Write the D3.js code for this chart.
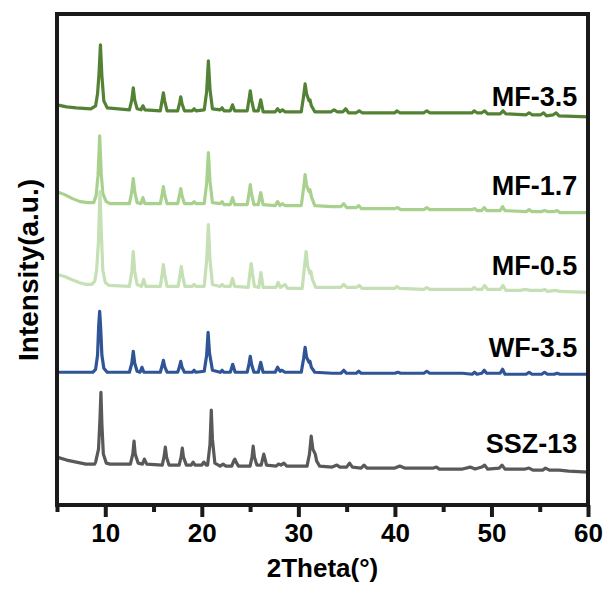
<!DOCTYPE html>
<html>
<head>
<meta charset="utf-8">
<script src="https://cdn.jsdelivr.net/npm/d3@7"></script>
<style>
  body { margin: 0; background: #fff; }
  svg text { font-family: "Liberation Sans", Arial, sans-serif; font-weight: bold; fill: #000; }
</style>
</head>
<body>
<div class="chart-box"></div>
<script>
let width = 608;
let height = 599;
let margin = {top: 14, right: 20, bottom: 94, left: 57};

// 2theta ticks
let majorTicks = [10, 20, 30, 40, 50, 60];
let minorTicks = [5, 15, 25, 35, 45, 55];

let sampleNames = ["MF-3.5", "MF-1.7", "MF-0.5", "WF-3.5", "SSZ-13"];
let sampleColors = ["#548235", "#a9d18e", "#c5e0b4", "#2f5597", "#595959"];
// label height (a.u.) where each name sits
let labelLevels = [400, 311, 230, 148, 52];

// stacked patterns, [2theta, intensity a.u.]
let mf35 = [[5,401],[6,399],[7,398],[8.5,397],[9.0,400],[9.2,412],[9.35,432],[9.5,461],[9.65,430],[9.85,405],[10.2,398],
  [12.5,396],[12.75,406],[12.9,418],[13.05,406],[13.3,397],[13.7,396],[13.9,400],[14.1,396],
  [15.7,395],[15.9,406],[16.02,413],[16.15,405],[16.4,395],[17.5,395],[17.7,403],[17.82,409],[17.95,402],[18.2,395],
  [19.0,395],[19.2,397],[19.4,395],[20.25,396],[20.5,414],[20.68,445],[20.85,416],[21.1,397],
  [21.9,396],[22.1,398],[22.3,395],[22.95,395],[23.18,401],[23.4,395],
  [24.7,395],[24.9,407],[25.02,415],[25.15,406],[25.4,395],[25.85,395],[26.1,406],[26.35,394],
  [27.6,394],[27.85,397],[28.1,394],[28.35,396],[28.6,394],
  [30.3,394],[30.55,410],[30.7,422],[30.85,412],[31.1,405],[31.2,406],[31.35,400],[31.7,394],
  [33.4,394],[33.7,396],[34.0,394],[34.6,394],[34.9,397],[35.2,393],[36.0,393],[36.3,395],[36.6,393],
  [40,393],[40.2,395],[40.5,393],[43,393],[43.3,395],[43.6,393],[48,393],[48.2,395],[48.5,393],
  [49.0,393],[49.3,395],[49.6,392],[50.9,392],[51.2,395],[51.5,392],[53.6,391],[53.9,393],[54.2,391],
  [55.1,391],[55.4,393],[55.7,390],[56.4,391],[56.7,393],[57.0,390],[60,389]];

let mf17 = [[5,314],[5.8,311],[6.6,307],[7.4,304],[8.2,303],[8.8,303],[9.05,310],[9.25,330],[9.42,370],[9.58,332],[9.75,312],[10.1,304],[10.5,302],
  [12.5,302],[12.75,314],[12.9,327],[13.05,314],[13.3,303],[13.7,302],[13.9,308],[14.1,302],
  [15.7,302],[15.9,312],[16.02,319],[16.15,311],[16.4,302],[17.5,302],[17.7,311],[17.82,317],[17.95,310],[18.2,302],
  [19.0,302],[19.2,304],[19.4,302],[20.25,302],[20.5,322],[20.68,353],[20.85,324],[21.1,303],
  [21.9,302],[22.1,304],[22.3,301],[22.95,301],[23.18,308],[23.4,301],
  [24.7,301],[24.9,313],[25.02,321],[25.15,312],[25.4,301],[25.85,301],[26.1,313],[26.35,301],
  [27.6,300],[27.85,304],[28.1,300],[28.35,302],[28.6,300],
  [30.3,300],[30.55,318],[30.7,331],[30.85,320],[31.1,314],[31.2,316],[31.35,309],[31.7,300],
  [33.5,299],[34.4,299],[34.7,302],[35.0,298],[36.0,298],[36.25,300],[36.5,297],[40,297],[40.3,298],[40.6,296],
  [43,296],[43.3,298],[43.6,296],[48,296],[48.25,297],[48.5,295],[49.0,295],[49.25,298],[49.5,295],
  [50.9,295],[51.15,299],[51.4,295],[53.6,294],[53.9,296],[54.2,294],[55.2,294],[55.5,295],[55.8,294],
  [56.5,294],[56.8,295],[57.1,293],[60,293]];

let mf05 = [[5,231],[5.8,229],[6.5,226],[7.3,223],[8.0,221],[8.6,221],[8.9,224],[9.1,235],[9.3,265],[9.45,314],[9.6,270],[9.75,235],[10.0,223],[10.4,220],
  [12.5,219],[12.75,234],[12.9,254],[13.05,234],[13.3,221],[13.75,219],[13.98,226],[14.2,219],
  [15.7,219],[15.9,232],[16.02,241],[16.15,231],[16.4,219],[17.55,219],[17.75,231],[17.88,239],[18.0,230],[18.25,219],
  [19.0,219],[19.2,221],[19.4,219],[20.25,219],[20.5,245],[20.68,281],[20.85,245],[21.1,221],
  [21.9,219],[22.1,221],[22.3,219],[22.95,219],[23.18,227],[23.4,219],
  [24.8,218],[25.0,234],[25.12,242],[25.25,232],[25.45,219],[25.9,218],[26.12,233],[26.35,218],
  [27.7,218],[27.9,223],[28.15,218],[28.6,221],[28.9,217],
  [30.4,217],[30.62,238],[30.8,254],[30.95,240],[31.2,232],[31.3,234],[31.45,226],[31.8,218],
  [33.5,218],[34.4,218],[34.7,221],[35.0,218],[36.0,218],[36.3,220],[36.6,217],[40,217],[40.2,219],[40.5,217],
  [43,216],[43.3,218],[43.6,216],[48.0,216],[48.2,218],[48.5,216],[49.0,216],[49.3,220],[49.6,216],
  [50.9,216],[51.2,220],[51.5,215],[53.0,215],[53.5,216],[54.0,215],[55.2,215],[55.5,216],[55.8,214],
  [56.7,215],[57.1,214],[60,213]];

let wf35 = [[5,133],[7,133],[8.7,133],[9.0,136],[9.2,150],[9.32,180],[9.42,194],[9.52,178],[9.65,150],[9.85,137],[10.2,133],
  [12.5,133],[12.75,142],[12.9,154],[13.05,142],[13.3,134],[13.6,133],[13.8,138],[14.0,133],
  [15.7,133],[15.9,140],[16.02,145],[16.15,139],[16.4,133],[17.5,133],[17.7,139],[17.82,144],[17.95,138],[18.2,133],
  [19.0,133],[19.2,135],[19.4,133],[20.25,134],[20.5,150],[20.65,173],[20.8,152],[21.1,135],
  [21.9,133],[22.1,135],[22.3,133],[22.95,133],[23.2,141],[23.45,133],
  [24.7,133],[24.9,142],[25.02,149],[25.15,141],[25.4,133],[25.85,133],[26.1,143],[26.35,133],
  [27.6,133],[27.85,138],[28.1,134],[28.3,135],[28.6,133],
  [30.3,133],[30.55,147],[30.7,158],[30.85,148],[31.1,143],[31.2,144],[31.35,138],[31.7,133],
  [33.5,132],[34.4,132],[34.7,135],[35.0,132],[36.0,132],[36.25,134],[36.5,132],[40.0,132],[40.3,133],[40.6,132],
  [43,132],[43.3,134],[43.6,132],[47,132],[48.0,131],[48.25,133],[48.5,131],[49.0,132],[49.25,135],[49.5,132],
  [50.9,132],[51.15,136],[51.4,131],[53.6,131],[53.9,133],[54.2,131],[55.2,131],[55.5,133],[55.8,131],
  [56.5,131],[56.8,132],[57.1,131],[60,131]];

let ssz13 = [[5,48],[6,45],[7,43],[8,41],[8.9,41],[9.0,43],[9.3,56],[9.45,86],[9.55,113],[9.65,81],[9.8,51],[10.1,42],[10.5,41],
  [12.6,41],[12.85,51],[12.98,64],[13.1,51],[13.4,42],[13.85,41],[14.05,46],[14.3,41],
  [15.9,40],[16.1,49],[16.22,58],[16.35,48],[16.6,40],[17.65,40],[17.85,48],[17.98,57],[18.1,48],[18.4,40],
  [18.9,40],[19.1,43],[19.3,40],[20.0,40],[20.2,43],[20.45,40],
  [20.6,40],[20.85,61],[20.98,95],[21.1,66],[21.35,42],[21.9,39],[22.2,41],[22.5,39],
  [23.1,39],[23.3,44],[23.42,46],[23.55,43],[23.8,39],
  [25.0,39],[25.2,48],[25.32,59],[25.45,48],[25.7,40],[26.15,40],[26.42,51],[26.7,40],
  [27.7,39],[27.95,41],[28.2,40],[28.5,42],[28.8,39],
  [30.9,39],[31.15,51],[31.33,69],[31.5,56],[31.75,51],[31.9,44],[32.2,39],
  [33.5,38],[34.0,40],[34.3,38],[35.0,38],[35.3,42],[35.6,38],[36.5,37],[36.8,40],[37.1,37],
  [40,37],[40.5,39],[41,37],[44,37],[44.3,38],[44.6,36],[47,36],[47.8,38],[48.3,36],
  [49.0,38],[49.3,40],[49.6,36],[50.8,37],[51.1,40],[51.4,36],[53.5,36],[53.9,37],[54.3,35],
  [55.3,35],[55.6,37],[56.0,35],[57,35],[58,34],[60,33]];

let patterns = [mf35, mf17, mf05, wf35, ssz13];

let svg = d3.select('.chart-box')
  .append('svg')
  .attr('width', width)
  .attr('height', height)

let x = d3.scaleLinear()
  .domain([5, 60])
  .range([margin.left, width - margin.right]);

let y = d3.scaleLinear()
  .domain([0, 492])
  .range([height - margin.bottom, margin.top]);

let line = d3.line()
  .x(d => x(d[0]))
  .y(d => y(d[1]));

// patterns, drawn bottom to top
svg.append("g")
  .attr("class", "patterns")
  .selectAll("path")
  .data(patterns)
  .enter()
  .append("path")
  .attr("d", line)
  .style("fill", "none")
  .style("stroke", (d, i) => sampleColors[i])
  .style("stroke-width", 3.2)
  .style("stroke-linejoin", "round")

svg.append("g")
  .attr("class", "labels")
  .selectAll("text")
  .data(sampleNames)
  .enter()
  .append("text")
  .attr("x", x(58.9))
  .attr("y", (d, i) => y(labelLevels[i]))
  .attr("text-anchor", "end")
  .style("font-size", "27px")
  .text(d => d)

// frame
svg.append("rect")
  .attr("x", x(5))
  .attr("y", y(492))
  .attr("width", x(60) - x(5))
  .attr("height", y(0) - y(492))
  .style("fill", "none")
  .style("stroke", "#1a1a1a")
  .style("stroke-width", 4)

let majorAxis = svg.append("g")
  .attr("transform", `translate(0,${y(0)})`)
  .call(d3.axisBottom(x).tickValues(majorTicks).tickSize(12).tickPadding(7).tickFormat(d3.format("d")))
majorAxis.select(".domain").remove();
majorAxis.selectAll("line").style("stroke", "#1a1a1a").style("stroke-width", 4);
majorAxis.selectAll("text").style("font-size", "26px").style("font-family", "Liberation Sans, Arial, sans-serif").style("font-weight", "bold");

let minorAxis = svg.append("g")
  .attr("transform", `translate(0,${y(0)})`)
  .call(d3.axisBottom(x).tickValues(minorTicks).tickSize(7).tickFormat(""))
minorAxis.select(".domain").remove();
minorAxis.selectAll("line").style("stroke", "#1a1a1a").style("stroke-width", 4);

svg.append("text")
  .attr("x", (x(5) + x(60)) / 2)
  .attr("y", 577)
  .attr("text-anchor", "middle")
  .style("font-size", "26px")
  .text("2Theta(°)")

svg.append("text")
  .attr("transform", `translate(38,270) rotate(-90)`)
  .attr("text-anchor", "middle")
  .style("font-size", "28px")
  .text("Intensity(a.u.)")
</script>
</body>
</html>
